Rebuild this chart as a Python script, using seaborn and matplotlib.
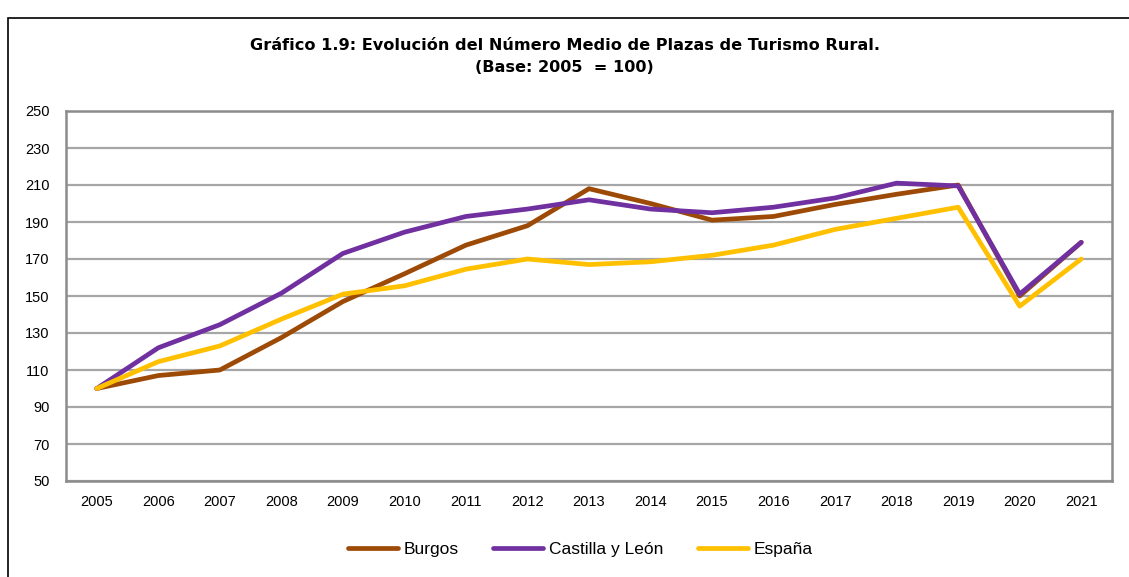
import pandas as pd
import matplotlib
matplotlib.use("Agg")
import matplotlib.pyplot as plt
import seaborn as sns
from matplotlib.patches import Rectangle

# Data (Base: 2005 = 100)
years = [str(y) for y in range(2005, 2022)]
burgos = [100, 107, 110, 127.5, 147, 162, 177.5, 188, 208, 200, 191, 193, 199.5, 205, 210, 150, 179]
castilla_leon = [100, 122, 134.5, 151.5, 173, 184.5, 193, 197, 202, 197, 195, 198, 203, 211, 209.5, 151, 179]
espana = [100, 114.5, 123, 137.5, 151, 155.5, 164.5, 170, 167, 168.5, 172, 177.5, 186, 192, 198, 144.5, 170]

series_names = ["Burgos", "Castilla y León", "España"]
COLORS = {
    "Burgos": "#9C4A06",
    "Castilla y León": "#7030A0",
    "España": "#FFC000",
}

df = pd.DataFrame({
    "year": years * 3,
    "value": burgos + castilla_leon + espana,
    "serie": [s for s in series_names for _ in years],
})

sns.set_theme(style="white")
plt.rcParams["font.family"] = ["Liberation Sans", "DejaVu Sans"]
plt.rcParams["text.color"] = "black"

fig = plt.figure(figsize=(11.29, 5.77), dpi=100)
ax = fig.add_axes([66 / 1129, 1 - 481 / 577, (1112 - 66) / 1129, (481 - 111) / 577])

sns.lineplot(data=df, x="year", y="value", hue="serie", palette=COLORS,
             hue_order=series_names, linewidth=3.4, ax=ax, sort=False,
             solid_capstyle="round", solid_joinstyle="round")

ax.set_ylim(50, 250)
ax.set_yticks(range(50, 251, 20))
ax.set_xlim(-0.5, len(years) - 0.5)
ax.yaxis.grid(True, color="#a6a6a6", linewidth=1.6)
ax.set_axisbelow(True)
for side in ax.spines.values():
    side.set_color("#8c8c8c")
    side.set_linewidth(1.8)
ax.tick_params(axis="both", length=0, labelsize=10.5, colors="black")
ax.tick_params(axis="y", pad=12)
ax.tick_params(axis="x", pad=10)
ax.set_xlabel("")
ax.set_ylabel("")

# legend below the plot area
handles, labels = ax.get_legend_handles_labels()
leg = ax.legend(handles, labels, loc="center", bbox_to_anchor=(580 / 1129, 1 - 549 / 577),
                bbox_transform=fig.transFigure, ncol=3, frameon=False, fontsize=12.5,
                handlelength=2.9, handletextpad=0.3, columnspacing=2.0)
for t in leg.get_texts():
    t.set_color("black")

# title
fig.text(0.5, 1 - 46 / 577, "Gráfico 1.9: Evolución del Número Medio de Plazas de Turismo Rural.",
         ha="center", va="center", fontsize=11.6, fontweight="bold",
         family=["DejaVu Sans"], color="black")
fig.text(0.5, 1 - 68 / 577, "(Base: 2005  = 100)", ha="center", va="center",
         fontsize=11.6, fontweight="bold", family=["DejaVu Sans"], color="black")

# outer frame of the chart
fig.patches.append(Rectangle((8 / 1129, -0.05), 1.2, 1 - 18 / 577 + 0.05,
                             transform=fig.transFigure, fill=False,
                             edgecolor="black", linewidth=1.2))

fig.savefig("out.png", dpi=100)
plt.close(fig)
